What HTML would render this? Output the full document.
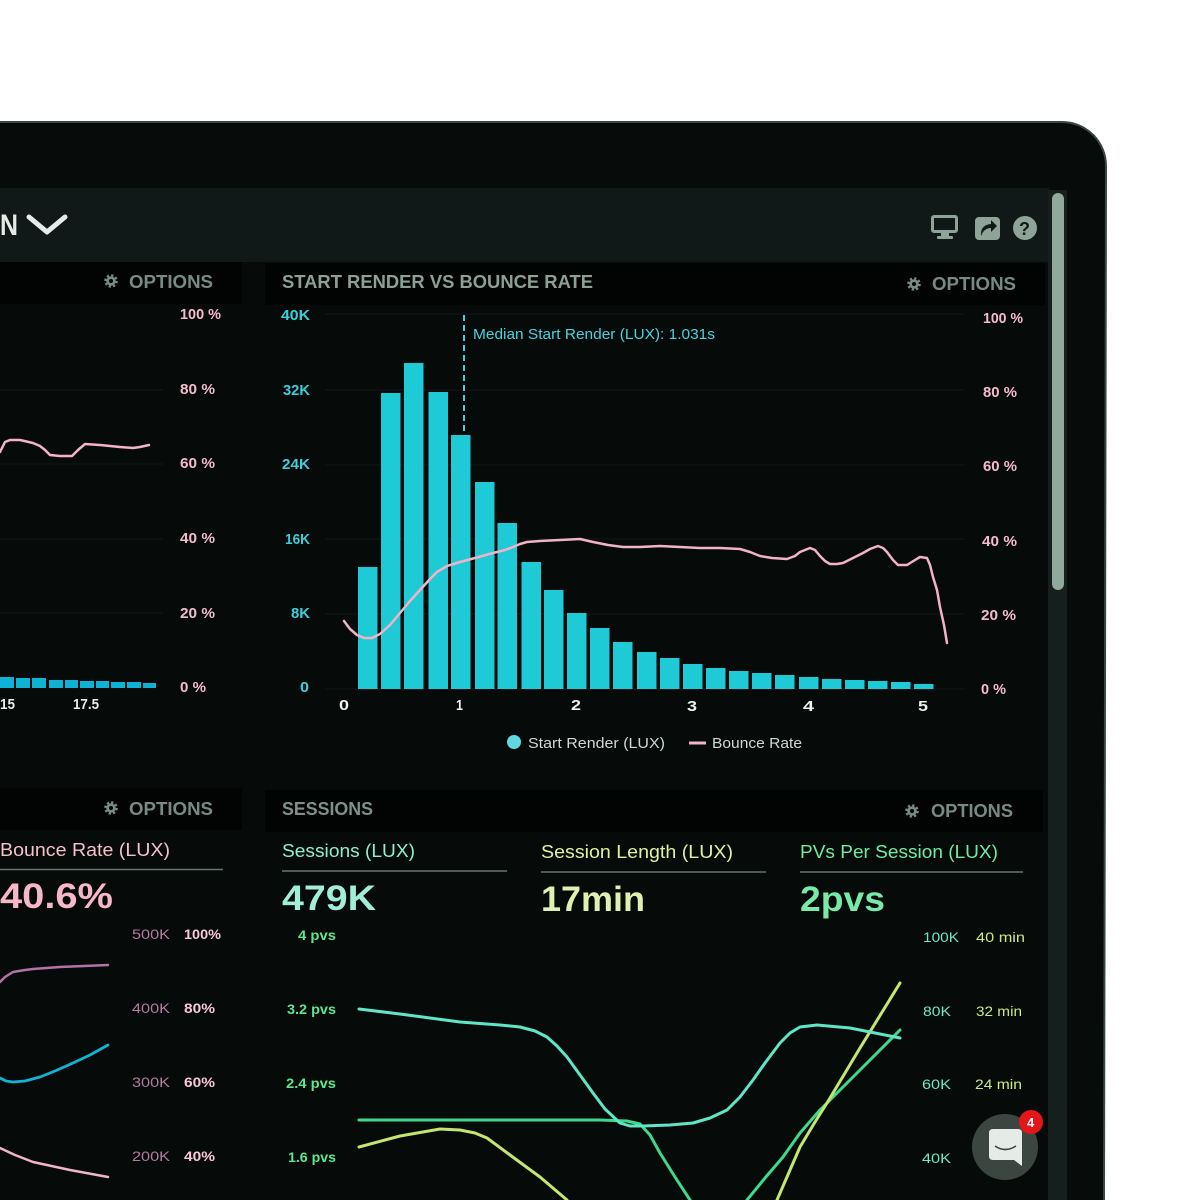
<!DOCTYPE html>
<html><head><meta charset="utf-8">
<style>
html,body{margin:0;padding:0;background:#fff;}
svg{display:block;}
text{font-family:"Liberation Sans",sans-serif;}
</style></head>
<body>
<svg width="1200" height="1200" viewBox="0 0 1200 1200" xmlns="http://www.w3.org/2000/svg">
<rect width="1200" height="1200" fill="#ffffff"/>
<!-- bezel -->
<path d="M-5,122 L1062,122 A44,44 0 0 1 1106,166 L1104,1205 L-5,1205 Z" fill="#070c0b" stroke="#3a4842" stroke-width="2"/>
<!-- screen -->
<rect x="0" y="188" width="1049" height="1012" fill="#060a09"/>
<rect x="0" y="188" width="1049" height="74" fill="#111918"/>
<!-- scrollbar -->
<rect x="1048" y="190" width="19" height="1010" fill="#161f1d"/>
<rect x="1052" y="193" width="12" height="397" rx="6" fill="#8fa99d"/>

<!-- panel headers -->
<rect x="0" y="262" width="242" height="42" fill="#020303"/>
<rect x="265" y="263" width="780" height="42" fill="#020303"/>
<rect x="0" y="788" width="242" height="42" fill="#020303"/>
<rect x="265" y="790" width="778" height="42" fill="#020303"/>

<!-- top header -->
<text x="0" y="235" font-size="30" font-weight="bold" fill="#e6ebe8" textLength="18" lengthAdjust="spacingAndGlyphs">N</text>
<polyline points="29,217 47,232 65,217" fill="none" stroke="#e6ebe8" stroke-width="5" stroke-linecap="round" stroke-linejoin="round"/>
<!-- icons -->
<rect x="932.5" y="216.5" width="24" height="15" rx="1.5" fill="none" stroke="#8ea498" stroke-width="3"/>
<rect x="941" y="231" width="8" height="6" fill="#8ea498"/>
<rect x="937" y="236" width="16" height="3" rx="1" fill="#8ea498"/>
<rect x="975" y="217" width="25" height="23" rx="4" fill="#8ea498"/>
<path d="M981,236 Q980,225 991,224 L991,220 L997,226 L991,232 L991,228 Q984,228 981,236 Z" fill="#111918"/>
<circle cx="1025" cy="228" r="12" fill="#8ea498"/>
<text x="1019" y="235" font-size="18" font-weight="bold" fill="#111918">?</text>

<!-- gears + OPTIONS -->
<g fill="#768c82">
  <g transform="translate(111,281)"><circle r="4.8"/><circle r="5.5" fill="none" stroke="#768c82" stroke-width="2.6" stroke-dasharray="2.2 2.12"/><circle r="2" fill="#020303"/></g>
  <text x="129" y="288" font-size="18" font-weight="bold" textLength="84" lengthAdjust="spacingAndGlyphs">OPTIONS</text>
  <g transform="translate(914,284)"><circle r="4.8"/><circle r="5.5" fill="none" stroke="#768c82" stroke-width="2.6" stroke-dasharray="2.2 2.12"/><circle r="2" fill="#020303"/></g>
  <text x="932" y="290" font-size="18" font-weight="bold" textLength="84" lengthAdjust="spacingAndGlyphs">OPTIONS</text>
  <g transform="translate(111,808)"><circle r="4.8"/><circle r="5.5" fill="none" stroke="#768c82" stroke-width="2.6" stroke-dasharray="2.2 2.12"/><circle r="2" fill="#020303"/></g>
  <text x="129" y="815" font-size="18" font-weight="bold" textLength="84" lengthAdjust="spacingAndGlyphs">OPTIONS</text>
  <g transform="translate(912,811)"><circle r="4.8"/><circle r="5.5" fill="none" stroke="#768c82" stroke-width="2.6" stroke-dasharray="2.2 2.12"/><circle r="2" fill="#020303"/></g>
  <text x="931" y="817" font-size="18" font-weight="bold" textLength="82" lengthAdjust="spacingAndGlyphs">OPTIONS</text>
</g>
<text x="282" y="288" font-size="18" font-weight="bold" fill="#8ba196" textLength="311" lengthAdjust="spacingAndGlyphs">START RENDER VS BOUNCE RATE</text>
<text x="282" y="815" font-size="18" font-weight="bold" fill="#7d9189" textLength="91" lengthAdjust="spacingAndGlyphs">SESSIONS</text>

<!-- TOP LEFT CHART -->
<g font-size="15" font-weight="bold" fill="#f4bccb">
  <text x="180" y="319" textLength="41" lengthAdjust="spacingAndGlyphs">100 %</text>
  <text x="180" y="394" textLength="35" lengthAdjust="spacingAndGlyphs">80 %</text>
  <text x="180" y="468" textLength="35" lengthAdjust="spacingAndGlyphs">60 %</text>
  <text x="180" y="543" textLength="35" lengthAdjust="spacingAndGlyphs">40 %</text>
  <text x="180" y="618" textLength="35" lengthAdjust="spacingAndGlyphs">20 %</text>
  <text x="180" y="692" textLength="26" lengthAdjust="spacingAndGlyphs">0 %</text>
</g>
<g stroke="#111817" stroke-width="1">
  <line x1="0" y1="390" x2="163" y2="390"/><line x1="0" y1="464" x2="163" y2="464"/>
  <line x1="0" y1="539" x2="163" y2="539"/><line x1="0" y1="613" x2="163" y2="613"/>
</g>
<g fill="#0fb2d4">
  <rect x="0" y="677" width="14" height="11"/><rect x="16" y="678" width="14" height="10"/>
  <rect x="32" y="678" width="14" height="10"/><rect x="49" y="680" width="14" height="8"/>
  <rect x="65" y="680" width="13" height="8"/><rect x="80" y="681" width="14" height="7"/>
  <rect x="96" y="681" width="13" height="7"/><rect x="111" y="682" width="14" height="6"/>
  <rect x="127" y="682" width="14" height="6"/><rect x="143" y="683" width="13" height="5"/>
</g>
<polyline points="0,452 5,442 10,440 20,440 33,443 40,446 45,450 50,455 60,456 72,456 78,450 85,444 100,445 120,447 133,448 140,447 149,445" fill="none" stroke="#f4b4c6" stroke-width="2.5" stroke-linejoin="round" stroke-linecap="round"/>
<g font-size="15" font-weight="bold" fill="#e8ecea">
  <text x="0" y="709" textLength="15" lengthAdjust="spacingAndGlyphs">15</text>
  <text x="73" y="709" textLength="26" lengthAdjust="spacingAndGlyphs">17.5</text>
</g>

<!-- TOP RIGHT CHART -->
<g stroke="#111817" stroke-width="1">
  <line x1="325" y1="314" x2="965" y2="314"/><line x1="325" y1="390" x2="965" y2="390"/>
  <line x1="325" y1="465" x2="965" y2="465"/><line x1="325" y1="539" x2="965" y2="539"/>
  <line x1="325" y1="614" x2="965" y2="614"/><line x1="325" y1="689" x2="965" y2="689"/>
</g>
<g font-size="15" font-weight="bold" fill="#3ccfdb">
  <text x="281" y="320" textLength="29" lengthAdjust="spacingAndGlyphs">40K</text>
  <text x="283" y="395" textLength="27" lengthAdjust="spacingAndGlyphs">32K</text>
  <text x="282" y="469" textLength="28" lengthAdjust="spacingAndGlyphs">24K</text>
  <text x="285" y="544" textLength="25" lengthAdjust="spacingAndGlyphs">16K</text>
  <text x="291" y="618" textLength="19" lengthAdjust="spacingAndGlyphs">8K</text>
  <text x="300" y="692" textLength="9" lengthAdjust="spacingAndGlyphs">0</text>
</g>
<g font-size="15" font-weight="bold" fill="#f4bccb">
  <text x="983" y="323" textLength="40" lengthAdjust="spacingAndGlyphs">100 %</text>
  <text x="983" y="397" textLength="34" lengthAdjust="spacingAndGlyphs">80 %</text>
  <text x="983" y="471" textLength="34" lengthAdjust="spacingAndGlyphs">60 %</text>
  <text x="982" y="546" textLength="35" lengthAdjust="spacingAndGlyphs">40 %</text>
  <text x="981" y="620" textLength="35" lengthAdjust="spacingAndGlyphs">20 %</text>
  <text x="981" y="694" textLength="25" lengthAdjust="spacingAndGlyphs">0 %</text>
</g>
<!-- bars -->
<g fill="#1ecad6">
  <rect x="358" y="567" width="19.5" height="122"/>
  <rect x="381" y="393" width="19.5" height="296"/>
  <rect x="404" y="363" width="19.5" height="326"/>
  <rect x="428.5" y="392" width="19.5" height="297"/>
  <rect x="451" y="435" width="19.5" height="254"/>
  <rect x="475" y="482" width="19.5" height="207"/>
  <rect x="497.5" y="523" width="19.5" height="166"/>
  <rect x="521.5" y="562" width="19.5" height="127"/>
  <rect x="544" y="590" width="19.5" height="99"/>
  <rect x="567" y="613" width="19.5" height="76"/>
  <rect x="590" y="628" width="19.5" height="61"/>
  <rect x="613" y="642" width="19.5" height="47"/>
  <rect x="637" y="652" width="19.5" height="37"/>
  <rect x="660" y="658" width="19.5" height="31"/>
  <rect x="683" y="664" width="19.5" height="25"/>
  <rect x="706" y="668" width="19.5" height="21"/>
  <rect x="729" y="671" width="19.5" height="18"/>
  <rect x="752" y="673" width="19.5" height="16"/>
  <rect x="775" y="675" width="19.5" height="14"/>
  <rect x="799" y="677" width="19.5" height="12"/>
  <rect x="822" y="679" width="19.5" height="10"/>
  <rect x="845" y="680" width="19.5" height="9"/>
  <rect x="868" y="681" width="19.5" height="8"/>
  <rect x="891" y="682" width="19.5" height="7"/>
  <rect x="914" y="684" width="19.5" height="5"/>
</g>
<!-- median -->
<line x1="464" y1="315" x2="464" y2="435" stroke="#3fd2de" stroke-width="2" stroke-dasharray="6 4"/>
<text x="473" y="339" font-size="15" fill="#46d4e0" textLength="242" lengthAdjust="spacingAndGlyphs">Median Start Render (LUX): 1.031s</text>
<!-- bounce line -->
<polyline points="344,621 350,629 357,635 364,638 372,638 380,634 390,625 400,613 410,601 420,590 430,579 437,572 447,566 460,562 475,558 493,553 505,550 513,547 520,544 527,542 540,541 560,540 580,539 593,542 608,545 623,547 640,547 660,546 680,547 700,548 720,548 740,549 750,552 760,556 772,558 787,559 795,556 800,552 810,548 815,550 820,556 825,561 830,564 837,564 843,563 853,558 863,553 870,549 878,546 883,548 887,552 893,560 898,565 907,565 915,560 920,557 927,558 930,565 933,577 937,590 940,607 944,625 947,643" fill="none" stroke="#f2b3c6" stroke-width="2.5" stroke-linejoin="round" stroke-linecap="round"/>
<!-- x labels -->
<g font-size="15" font-weight="bold" fill="#eef0ee">
  <text x="339" y="710" textLength="10" lengthAdjust="spacingAndGlyphs">0</text>
  <text x="456" y="710" textLength="7" lengthAdjust="spacingAndGlyphs">1</text>
  <text x="571" y="710" textLength="10" lengthAdjust="spacingAndGlyphs">2</text>
  <text x="687" y="711" textLength="10" lengthAdjust="spacingAndGlyphs">3</text>
  <text x="803" y="711" textLength="11" lengthAdjust="spacingAndGlyphs">4</text>
  <text x="918" y="711" textLength="10" lengthAdjust="spacingAndGlyphs">5</text>
</g>
<!-- legend -->
<circle cx="514" cy="742" r="7" fill="#5fd8e2"/>
<text x="528" y="748" font-size="15" fill="#cdd8d5" textLength="137" lengthAdjust="spacingAndGlyphs">Start Render (LUX)</text>
<line x1="689" y1="743" x2="706" y2="743" stroke="#f2b3c6" stroke-width="3"/>
<text x="712" y="748" font-size="15" fill="#cdd8d5" textLength="90" lengthAdjust="spacingAndGlyphs">Bounce Rate</text>

<!-- BOTTOM LEFT -->
<text x="0" y="856" font-size="18" fill="#f4c0cc" textLength="170" lengthAdjust="spacingAndGlyphs">Bounce Rate (LUX)</text>
<line x1="0" y1="869.5" x2="223" y2="869.5" stroke="#66766f" stroke-width="1.5"/>
<text x="0" y="908" font-size="35" font-weight="bold" fill="#f6b8c9" textLength="113" lengthAdjust="spacingAndGlyphs">40.6%</text>
<g font-size="14" fill="#b27c9e">
  <text x="132" y="939" textLength="38" lengthAdjust="spacingAndGlyphs">500K</text>
  <text x="132" y="1013" textLength="38" lengthAdjust="spacingAndGlyphs">400K</text>
  <text x="132" y="1087" textLength="38" lengthAdjust="spacingAndGlyphs">300K</text>
  <text x="132" y="1161" textLength="38" lengthAdjust="spacingAndGlyphs">200K</text>
</g>
<g font-size="14" font-weight="bold" fill="#f8c8d6">
  <text x="184" y="939" textLength="37" lengthAdjust="spacingAndGlyphs">100%</text>
  <text x="184" y="1013" textLength="31" lengthAdjust="spacingAndGlyphs">80%</text>
  <text x="184" y="1087" textLength="31" lengthAdjust="spacingAndGlyphs">60%</text>
  <text x="184" y="1161" textLength="31" lengthAdjust="spacingAndGlyphs">40%</text>
</g>
<polyline points="0,982 5,977 13,972 25,970 33,969 60,967 108,965" fill="none" stroke="#b472a8" stroke-width="2.5" stroke-linecap="round" stroke-linejoin="round"/>
<polyline points="0,1078 6,1081 13,1082 25,1081 40,1077 55,1071 73,1063 90,1055 108,1045" fill="none" stroke="#12b4d4" stroke-width="2.8" stroke-linecap="round" stroke-linejoin="round"/>
<polyline points="0,1148 15,1155 33,1162 70,1170 108,1177" fill="none" stroke="#f2b4c8" stroke-width="2.5" stroke-linecap="round" stroke-linejoin="round"/>

<!-- BOTTOM RIGHT -->
<text x="282" y="857" font-size="18" fill="#8ef0d0" textLength="133" lengthAdjust="spacingAndGlyphs">Sessions (LUX)</text>
<line x1="282" y1="871" x2="507" y2="871" stroke="#66766f" stroke-width="1.5"/>
<text x="541" y="858" font-size="18" fill="#e0f0a0" textLength="192" lengthAdjust="spacingAndGlyphs">Session Length (LUX)</text>
<line x1="541" y1="872" x2="766" y2="872" stroke="#66766f" stroke-width="1.5"/>
<text x="800" y="858" font-size="18" fill="#70eca2" textLength="198" lengthAdjust="spacingAndGlyphs">PVs Per Session (LUX)</text>
<line x1="800" y1="872" x2="1023" y2="872" stroke="#66766f" stroke-width="1.5"/>
<text x="282" y="910" font-size="35" font-weight="bold" fill="#a2ecd8" textLength="94" lengthAdjust="spacingAndGlyphs">479K</text>
<text x="541" y="911" font-size="35" font-weight="bold" fill="#e0f0b0" textLength="104" lengthAdjust="spacingAndGlyphs">17min</text>
<text x="800" y="911" font-size="35" font-weight="bold" fill="#78eaa8" textLength="85" lengthAdjust="spacingAndGlyphs">2pvs</text>
<g font-size="14" font-weight="bold" fill="#5ce88e">
  <text x="298" y="940" textLength="38" lengthAdjust="spacingAndGlyphs">4 pvs</text>
  <text x="287" y="1014" textLength="49" lengthAdjust="spacingAndGlyphs">3.2 pvs</text>
  <text x="286" y="1088" textLength="50" lengthAdjust="spacingAndGlyphs">2.4 pvs</text>
  <text x="288" y="1162" textLength="48" lengthAdjust="spacingAndGlyphs">1.6 pvs</text>
</g>
<g font-size="14" fill="#6ee8c8">
  <text x="923" y="942" textLength="36" lengthAdjust="spacingAndGlyphs">100K</text>
  <text x="923" y="1016" textLength="28" lengthAdjust="spacingAndGlyphs">80K</text>
  <text x="922" y="1089" textLength="29" lengthAdjust="spacingAndGlyphs">60K</text>
  <text x="922" y="1163" textLength="29" lengthAdjust="spacingAndGlyphs">40K</text>
</g>
<g font-size="14" fill="#cce880">
  <text x="976" y="942" textLength="49" lengthAdjust="spacingAndGlyphs">40 min</text>
  <text x="976" y="1016" textLength="46" lengthAdjust="spacingAndGlyphs">32 min</text>
  <text x="975" y="1089" textLength="47" lengthAdjust="spacingAndGlyphs">24 min</text>
</g>
<!-- session lines -->
<g fill="none" stroke-width="3" stroke-linecap="round" stroke-linejoin="round">
  <polyline stroke="#3ed88e" points="359,1120 500,1120 600,1120 627,1121 640,1124 650,1135 660,1153 675,1177 690,1200"/>
  <polyline stroke="#3ed88e" points="747,1200 765,1178 783,1157 800,1133 820,1110 860,1070 900,1030"/>
  <polyline stroke="#c4e66e" points="359,1147 400,1136 440,1129 460,1130 475,1133 487,1138 510,1155 540,1177 567,1200"/>
  <polyline stroke="#c4e66e" points="777,1200 790,1170 800,1147 815,1122 827,1103 860,1048 900,983"/>
  <polyline stroke="#5ee6c6" points="359,1009 400,1014 460,1022 500,1025 520,1027 535,1031 547,1037 557,1046 567,1057 580,1075 593,1093 605,1109 620,1123 630,1126 643,1126 670,1125 693,1123 710,1118 727,1110 740,1097 753,1080 765,1063 780,1043 790,1033 800,1027 817,1025 850,1028 875,1033 900,1038"/>
</g>
<!-- chat bubble -->
<circle cx="1005" cy="1147" r="33" fill="#3b4641"/>
<path d="M993,1129 L1018,1129 Q1022,1129 1022,1133 L1022,1166 L1014,1160 L993,1160 Q989,1160 989,1156 L989,1133 Q989,1129 993,1129 Z" fill="#e6ebe8"/>
<path d="M995,1146 Q1005,1153 1016,1146" fill="none" stroke="#3b4641" stroke-width="1.6"/>
<circle cx="1031" cy="1122" r="12" fill="#e3161a"/>
<text x="1027" y="1127" font-size="13" font-weight="bold" fill="#ffffff">4</text>
</svg>
</body></html>
